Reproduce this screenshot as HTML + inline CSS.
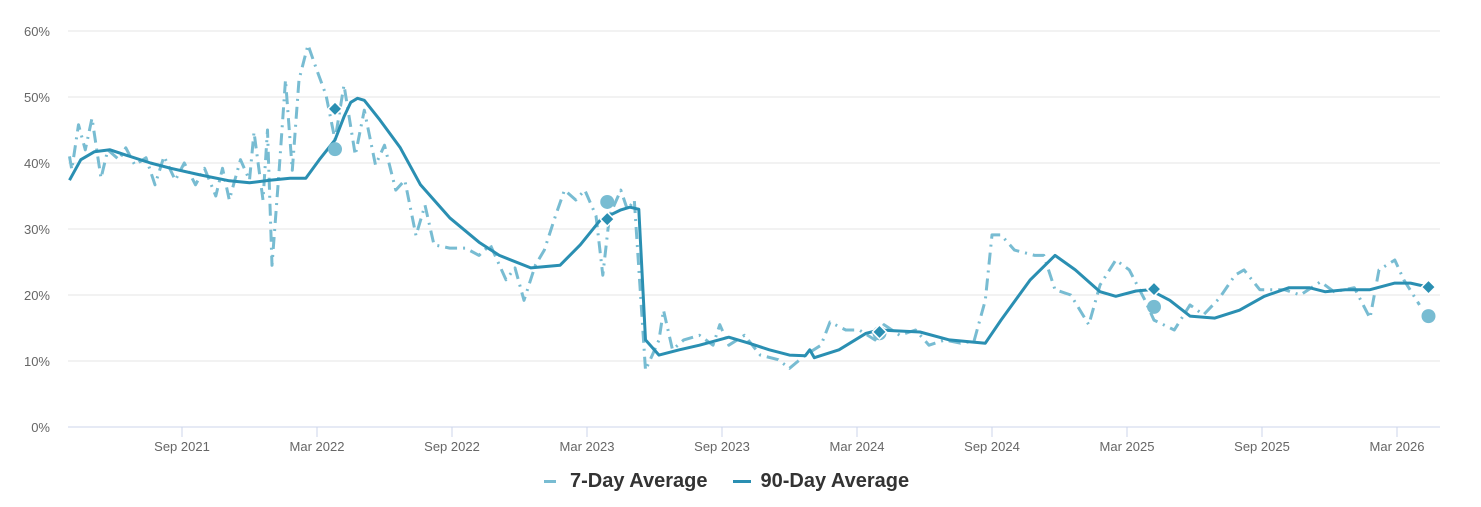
<!DOCTYPE html>
<html><head><meta charset="utf-8"><style>
body{margin:0;background:#fff;font-family:"Liberation Sans",Arial,sans-serif;}
svg{display:block}
</style></head><body>
<svg id="chart" width="1481" height="507" xmlns="http://www.w3.org/2000/svg"></svg>
<script>
// months since Apr 2021
const ticksY = [0,10,20,30,40,50,60];
const tickXLabels = ["Sep 2021","Mar 2022","Sep 2022","Mar 2023","Sep 2023","Mar 2024","Sep 2024","Mar 2025","Sep 2025","Mar 2026"];
const tickXMonths = [5,11,17,23,29,35,41,47,53,59];
const avg90M = [0,0.5,1.1,1.8,2.5,3.6,4.5,5.8,7.1,8.0,8.9,9.8,10.5,11.1,11.8,12.2,12.5,12.8,13.1,13.8,14.7,15.6,16.9,18.2,19.1,20.5,21.8,22.7,23.6,24.5,24.9,25.3,25.6,26.2,27.1,28.0,29.3,30.2,31.1,32.0,32.7,32.9,33.1,34.2,35.4,36.0,37.8,39.1,40.7,41.4,42.7,43.8,44.7,45.8,46.5,47.4,48.0,48.9,49.8,50.9,52.0,53.1,54.2,55.1,55.8,56.7,57.8,58.9,59.6,60.4];
const avg90V = [37.4,40.5,41.7,42,41.2,40,39.2,38.2,37.3,37,37.4,37.7,37.7,40.5,43.5,47,49.2,49.8,49.5,46.5,42.3,36.7,31.7,28,26,24.1,24.5,27.6,31.4,32.9,33.3,33,13.2,10.9,11.7,12.4,13.6,12.7,11.7,10.9,10.8,11.7,10.5,11.7,14.2,14.7,14.4,13.2,12.7,16.2,22.3,26,23.8,20.5,19.8,20.6,20.8,19.2,16.8,16.5,17.7,19.8,21.1,21.1,20.5,20.8,20.8,21.8,21.8,21.2];
const avg7M = [0,0.1,0.4,0.7,1.0,1.4,1.7,2.2,2.5,2.9,3.4,3.8,4.2,4.7,5.1,5.6,6.0,6.5,6.8,7.1,7.6,8.0,8.2,8.6,8.8,9.0,9.3,9.6,9.9,10.2,10.6,11.0,11.4,11.8,12.2,12.7,13.1,13.6,14.0,14.5,14.9,15.4,15.8,16.2,16.9,17.6,18.2,18.7,19.4,19.8,20.2,20.7,21.1,21.6,22.0,22.5,22.9,23.4,23.7,24.0,24.5,24.8,25.1,25.6,25.9,26.2,26.4,26.8,27.3,28.0,28.6,28.9,29.3,30.0,30.7,31.5,32.0,32.7,33.4,33.8,34.5,35.1,35.8,36.2,36.9,37.6,38.2,38.9,39.6,40.2,40.7,41.0,41.4,42.0,42.9,43.3,43.8,44.5,45.3,45.8,46.5,47.1,47.8,48.2,49.1,49.8,50.4,51.1,51.8,52.2,52.9,53.6,54.0,54.7,55.6,56.2,57.1,57.8,58.2,58.9,59.3,60.0];
const avg7V = [41,39,45.8,42,46.8,37.7,42,40.5,42.3,39.7,40.8,36.7,41,37.4,40,36.7,39.2,35,39.2,34.4,40.5,37.4,44.7,34.4,45,24.5,38.2,52.6,38.9,52.6,57.9,54,50.3,43.5,51.8,41.2,48,39.7,42.7,35.9,37.4,29,33.6,27.6,27.1,27.1,26,27.6,22.3,24.1,19.2,24.5,26.8,32,35.9,34.4,35.9,32,23,32,35.9,32.9,34.4,8.6,10.9,13.2,17.7,11.7,13.2,13.9,12.4,15.5,12.4,13.9,10.9,10.2,8.9,10.9,12.4,15.9,14.7,14.7,13.2,15.5,13.9,14.7,12.4,13.2,12.7,13,19.2,29.1,29.1,26.8,26,26,20.8,20,15.5,21.5,25.3,23.8,19.2,16.2,14.7,18.5,17,19.5,23,23.8,20.8,20.8,20.8,20,22,20.5,21.1,16.5,23.8,25.3,22.3,18.5];
const circleM = [11.8,23.9,36.0,48.2,60.4];
const circleV = [42.1,34.1,14.2,18.2,16.8];
const diamondM = [11.8,23.9,36.0,48.2,60.4];
const diamondV = [48.2,31.5,14.4,20.9,21.2];

const NS="http://www.w3.org/2000/svg";
const svg=document.getElementById('chart');
const X0=69.5, PX_M=22.5, Y0=427, PX_P=6.6;
const xs=m=>X0+m*PX_M, ys=v=>Y0-v*PX_P;
function mk(t,a,p){const e=document.createElementNS(NS,t);for(const k in a)e.setAttribute(k,a[k]);(p||svg).appendChild(e);return e;}

ticksY.forEach(v=>{
  const g=mk('line',{x1:68,x2:1440,y1:ys(v),y2:ys(v),stroke:v===0?'#ccd6eb':'#e6e6e6','stroke-width':1});
  
  
  const t=mk('text',{x:50,y:ys(v)+5,'text-anchor':'end','font-size':13,fill:'#666'});
  t.textContent=v+'%';
  
  
});
tickXMonths.forEach((m,i)=>{
  const l=mk('line',{x1:xs(m),x2:xs(m),y1:427,y2:437,stroke:'#ccd6eb'});
  
  
  const t=mk('text',{x:xs(m),y:451,'text-anchor':'middle','font-size':13,fill:'#666'});
  t.textContent=tickXLabels[i];
  
  
});
function path(M,V){return M.map((m,i)=>(i?'L':'M')+xs(m).toFixed(1)+' '+ys(V[i]).toFixed(1)).join(' ');}
const p7=mk('path',{d:path(avg7M,avg7V),fill:'none',stroke:'#78bcd2','stroke-width':3,'stroke-dasharray':'12,6,2,6','stroke-linejoin':'round'});


const p90=mk('path',{d:path(avg90M,avg90V),fill:'none',stroke:'#2a8fb2','stroke-width':3,'stroke-linejoin':'round'});


circleM.forEach((m,i)=>{
  const c=mk('circle',{cx:xs(m),cy:ys(circleV[i]),r:7,fill:'#78bcd2'});
  
  
});
diamondM.forEach((m,i)=>{
  const x=xs(m),y=ys(diamondV[i]);
  const d=mk('path',{d:`M${x} ${y-7}L${x+7} ${y}L${x} ${y+7}L${x-7} ${y}Z`,fill:'#2a8fb2',stroke:'#fff','stroke-width':1.5});
  
  
});
</script>
<div style="position:absolute;left:0;top:0;width:1481px;height:507px;pointer-events:none">
  <div style="position:absolute;top:470px;left:544px;font-weight:bold;font-size:20px;color:#333;white-space:nowrap">
    <span style="display:inline-block;margin-right:26px"><span style="display:inline-block;width:12px;height:3px;background:#78bcd2;vertical-align:middle;margin:0 14px 0 0"></span>7-Day Average</span><span style="display:inline-block"><span style="display:inline-block;width:18px;height:3px;background:#2a8fb2;vertical-align:middle;margin:0 9px 0 0"></span>90-Day Average</span>
  </div>
</div>
</body></html>
